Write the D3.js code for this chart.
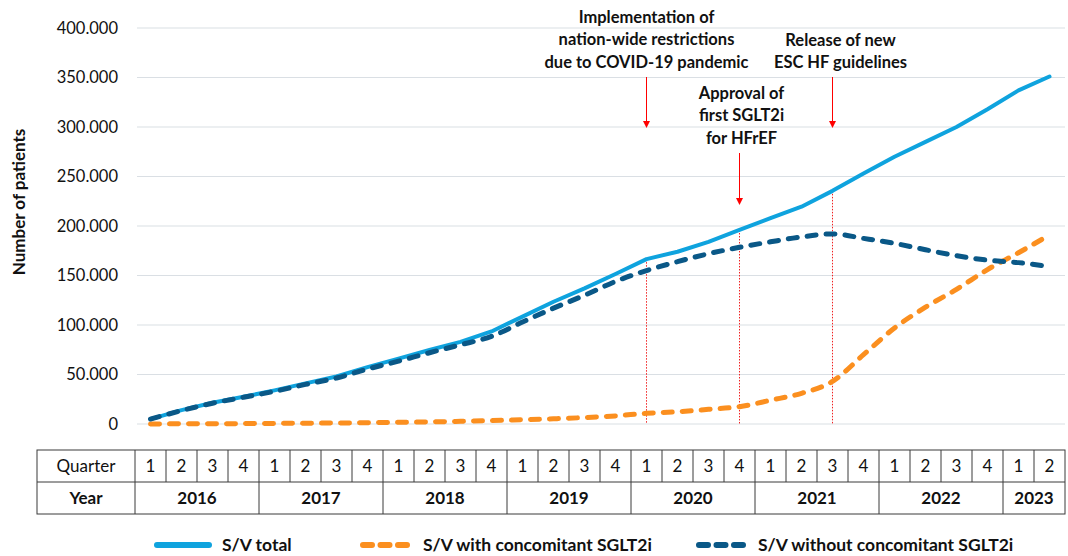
<!DOCTYPE html>
<html>
<head>
<meta charset="utf-8">
<script src="https://cdn.jsdelivr.net/npm/d3@7"></script>
<style>
  html, body { margin: 0; padding: 0; background: #fff; }
  svg { display: block; font-family: Lato, "Noto Sans", sans-serif; }
</style>
</head>
<body>
<svg id="chart" width="1068" height="556"></svg>
<script>
// quarters 2016 Q1 .. 2023 Q2
const quarters = ['1','2','3','4','1','2','3','4','1','2','3','4','1','2','3','4',
  '1','2','3','4','1','2','3','4','1','2','3','4','1','2'];
const years = ['2016','2017','2018','2019','2020','2021','2022','2023'];
const quartersPerYear = [4, 4, 4, 4, 4, 4, 4, 2];
const yTicks = [0, 50000, 100000, 150000, 200000, 250000, 300000, 350000, 400000];

const svTotal = [5000, 14000, 21500, 27500, 34000, 41000, 48000, 57500, 66000, 74700,
  83000, 93500, 108500, 123500, 137000, 151500, 166500, 174000, 184000, 196000,
  208000, 219500, 235500, 253000, 270000, 285000, 300000, 318000, 337000, 351000];
const svWith = [0, 200, 300, 400, 600, 800, 1000, 1300, 1700, 2100,
  2700, 3400, 4300, 5300, 6500, 8200, 10800, 12400, 14800, 17500,
  24000, 31000, 43000, 70000, 97000, 118000, 136000, 156000, 173000, 191000];
const svWithout = [5000, 13500, 21000, 27000, 33000, 40000, 46500, 55500, 63500, 72000,
  80000, 88500, 103000, 117000, 130000, 144000, 155000, 164000, 172000, 178500,
  184000, 189000, 192000, 187500, 182500, 176000, 170000, 165500, 163000, 159000];

// events: quarter index + label lines
const events = [
  { idx: 16, lines: ['Implementation of', 'nation-wide restrictions', 'due to COVID-19 pandemic'], textY: 17, arrowTop: 77, arrowBottom: 128, dx: 0 },
  { idx: 19, lines: ['Approval of', 'first SGLT2i', 'for HFrEF'], textY: 93, arrowTop: 153, arrowBottom: 205, dx: 2 },
  { idx: 22, lines: ['Release of new', 'ESC HF guidelines'], textY: 40, arrowTop: 77, arrowBottom: 128, dx: 8 }
];

const colTotal = '#0fa3de';
const colWith = '#fb8f1f';
const colWithout = '#0a5887';

const svg = d3.select('#chart');
const left = 135, right = 1065;

const x = d3.scaleBand()
  .domain(d3.range(quarters.length))
  .range([left, right]);
const cx = i => x(i) + x.bandwidth() / 2;

const y = d3.scaleLinear()
  .domain([0, 400000])
  .range([424, 28]);

const locale = d3.formatLocale({ decimal: ',', thousands: '.', grouping: [3], currency: ['', ''] });
const fmt = locale.format(',');

// gridlines
svg.append('g')
  .selectAll('line')
  .data(yTicks)
  .join('line')
  .attr('x1', 137).attr('x2', right)
  .attr('y1', d => y(d)).attr('y2', d => y(d))
  .attr('stroke', '#dadfe4')
  .attr('stroke-width', 1.2);

// y axis labels
const yAxis = svg.append('g')
  .attr('transform', 'translate(126,0)')
  .call(d3.axisLeft(y).tickValues(yTicks).tickFormat(fmt).tickSize(0).tickPadding(8));
yAxis.select('.domain').remove();
yAxis.selectAll('text')
  .attr('font-family', 'Lato, sans-serif')
  .attr('font-size', 16.5)
  .attr('fill', '#111');

svg.append('text')
  .attr('transform', 'translate(25,202) rotate(-90)')
  .attr('text-anchor', 'middle')
  .attr('font-size', 17)
  .attr('font-weight', 700)
  .attr('fill', '#111')
  .text('Number of patients');

// red dotted lines from total down to baseline
svg.append('g')
  .selectAll('line')
  .data(events)
  .join('line')
  .attr('x1', d => cx(d.idx)).attr('x2', d => cx(d.idx))
  .attr('y1', d => y(svTotal[d.idx])).attr('y2', y(0))
  .attr('stroke', '#f02020')
  .attr('stroke-width', 1)
  .attr('stroke-dasharray', '1.5,1.5');

// lines
const lineLin = d3.line().x((d, i) => cx(i)).y(d => y(d));
const lineSmooth = d3.line().x((d, i) => cx(i)).y(d => y(d)).curve(d3.curveMonotoneX);

svg.append('path')
  .datum(svTotal)
  .attr('d', lineLin)
  .attr('fill', 'none')
  .attr('stroke', colTotal)
  .attr('stroke-width', 4)
  .attr('stroke-linecap', 'round')
  .attr('stroke-linejoin', 'round');

svg.append('path')
  .datum(svWith)
  .attr('d', lineSmooth)
  .attr('fill', 'none')
  .attr('stroke', colWith)
  .attr('stroke-width', 5)
  .attr('stroke-linecap', 'round')
  .attr('stroke-dasharray', '9,10');

svg.append('path')
  .datum(svWithout)
  .attr('d', lineSmooth)
  .attr('fill', 'none')
  .attr('stroke', colWithout)
  .attr('stroke-width', 5)
  .attr('stroke-linecap', 'round')
  .attr('stroke-dasharray', '9,10');

// annotations
const ann = svg.append('g');
events.forEach(ev => {
  const ax = cx(ev.idx);
  const t = ann.append('text')
    .attr('text-anchor', 'middle')
    .attr('font-size', 16.5)
    .attr('font-weight', 700)
    .attr('fill', '#111');
  ev.lines.forEach((ln, k) => {
    t.append('tspan')
      .attr('x', ax + ev.dx)
      .attr('y', ev.textY + k * 22.5)
      .attr('dy', '0.35em')
      .text(ln);
  });
  ann.append('line')
    .attr('x1', ax).attr('x2', ax)
    .attr('y1', ev.arrowTop).attr('y2', ev.arrowBottom - 6)
    .attr('stroke', '#f00')
    .attr('stroke-width', 1);
  ann.append('path')
    .attr('d', `M${ax - 3.5},${ev.arrowBottom - 7}L${ax + 3.5},${ev.arrowBottom - 7}L${ax},${ev.arrowBottom}Z`)
    .attr('fill', '#f00');
});

// data table
const tTop = 450, tMid = 482, tBot = 514, tLeft = 37;
const tbl = svg.append('g').attr('stroke', '#3a3a3a').attr('stroke-width', 1).attr('fill', 'none');
tbl.append('rect').attr('x', tLeft).attr('y', tTop).attr('width', right - tLeft).attr('height', tBot - tTop);
tbl.append('line').attr('x1', tLeft).attr('x2', right).attr('y1', tMid).attr('y2', tMid);
tbl.append('line').attr('x1', left).attr('x2', left).attr('y1', tTop).attr('y2', tBot);
tbl.selectAll('.qsep')
  .data(d3.range(1, quarters.length))
  .join('line')
  .attr('x1', i => x(i)).attr('x2', i => x(i))
  .attr('y1', tTop).attr('y2', tMid);
const yearStart = d3.cumsum([0].concat(quartersPerYear));
tbl.selectAll('.ysep')
  .data(yearStart.slice(1, -1))
  .join('line')
  .attr('x1', i => x(i)).attr('x2', i => x(i))
  .attr('y1', tMid).attr('y2', tBot);

const tt = svg.append('g').attr('text-anchor', 'middle').attr('font-size', 17).attr('fill', '#111');
tt.append('text').attr('x', (tLeft + left) / 2).attr('y', (tTop + tMid) / 2).attr('dy', '0.35em').text('Quarter');
tt.append('text').attr('x', (tLeft + left) / 2).attr('y', (tMid + tBot) / 2).attr('dy', '0.35em')
  .attr('font-weight', 700).text('Year');
tt.selectAll('.q')
  .data(quarters)
  .join('text')
  .attr('x', (d, i) => cx(i))
  .attr('y', (tTop + tMid) / 2)
  .attr('dy', '0.35em')
  .text(d => d);
tt.selectAll('.yr')
  .data(years)
  .join('text')
  .attr('x', (d, k) => (x(yearStart[k]) + (yearStart[k + 1] < quarters.length ? x(yearStart[k + 1]) : right)) / 2)
  .attr('y', (tMid + tBot) / 2)
  .attr('dy', '0.35em')
  .attr('font-weight', 700)
  .text(d => d);

// legend
const legend = [
  { label: 'S/V total', color: colTotal, dash: null, x0: 157, x1: 209, tx: 222 },
  { label: 'S/V with concomitant SGLT2i', color: colWith, dash: '9,8.5', x0: 363, x1: 411, tx: 423 },
  { label: 'S/V without concomitant SGLT2i', color: colWithout, dash: '9,8.5', x0: 699, x1: 746, tx: 758 }
];
const lg = svg.append('g');
legend.forEach(d => {
  lg.append('line')
    .attr('x1', d.x0).attr('x2', d.x1).attr('y1', 545).attr('y2', 545)
    .attr('stroke', d.color)
    .attr('stroke-width', 6)
    .attr('stroke-linecap', 'round')
    .attr('stroke-dasharray', d.dash);
  lg.append('text')
    .attr('x', d.tx).attr('y', 545).attr('dy', '0.35em')
    .attr('font-size', 17.5).attr('font-weight', 700).attr('fill', '#111')
    .text(d.label);
});
</script>
</body>
</html>
